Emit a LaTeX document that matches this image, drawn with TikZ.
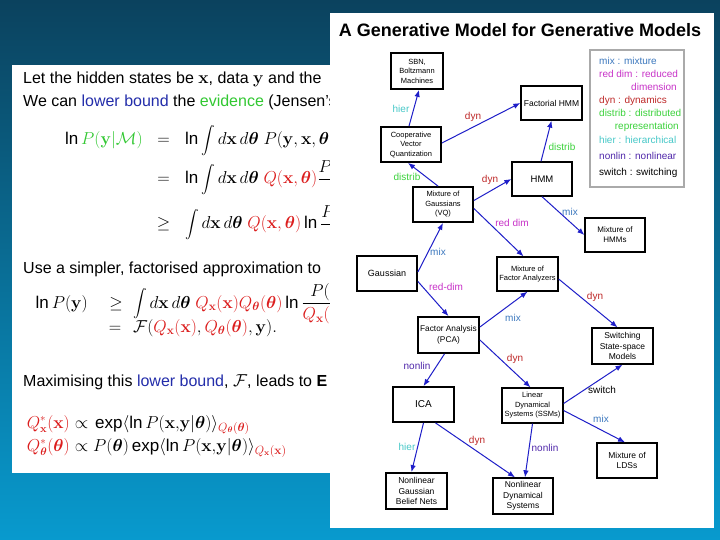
\documentclass[tikz,border=0pt]{standalone}
\usepackage{amsmath,amssymb}
\usepackage[no-math]{fontspec}
\setmainfont{Liberation Sans}
\usetikzlibrary{arrows.meta}
\definecolor{bgtop}{RGB}{11,66,94}
\definecolor{bgbot}{RGB}{8,154,206}
\definecolor{qred}{RGB}{220,30,30}
\definecolor{evgreen}{RGB}{50,200,50}
\definecolor{lbblue}{RGB}{35,45,170}
\definecolor{edgeblue}{RGB}{30,30,200}
\definecolor{cmix}{RGB}{60,120,190}
\definecolor{cred}{RGB}{200,50,200}
\definecolor{cdyn}{RGB}{190,40,40}
\definecolor{cdist}{RGB}{60,210,60}
\definecolor{chier}{RGB}{70,200,200}
\definecolor{cnon}{RGB}{80,40,170}
\definecolor{legbord}{RGB}{170,170,170}
\newcommand\Ln{\mathop{\text{ln}}\nolimits}
\newcommand\Ex{\mathop{\text{exp}}\nolimits}
\newcommand\Int{\mathop{\vcenter{\hbox{\scalebox{0.8}{$\displaystyle\int$}}}}\nolimits}
\newcommand\vx{\mathbf{x}}
\newcommand\vy{\mathbf{y}}
\newcommand\vth{\boldsymbol{\theta}}
\tikzset{
  slidetxt/.style={anchor=base west, inner sep=0pt, font=\fontsize{16}{19}\selectfont},
  eqn/.style={inner sep=0pt, font=\fontsize{17}{20}\selectfont},
  box/.style={draw=black, line width=1.8pt, fill=white, inner sep=1pt, align=center, font=\fontsize{8}{10}\selectfont},
  thinbox/.style={box, line width=1.3pt},
  edge/.style={draw=edgeblue, line width=1pt, -{Latex[length=7pt,width=5.5pt]}},
  lab/.style={font=\fontsize{10}{12}\selectfont, inner sep=0pt},
  leg/.style={font=\fontsize{10}{12}\selectfont, inner sep=0pt, anchor=base west},
}
\begin{document}
\begin{tikzpicture}[x=1pt, y={(0pt,-1pt)}]
\useasboundingbox (0,0) rectangle (720,540);
\shade[top color=bgtop, bottom color=bgbot] (0,0) rectangle (720,540);
% left slide
\fill[white] (12,65) rectangle (340,473);
\node[slidetxt] (l1) at (23,84) {Let the hidden states be $\vx$, data $\vy$ and the};
\node[slidetxt] (l2) at (23,107) {We can {\color{lbblue}lower bound} the {\color{evgreen}evidence} (Jensen's};
\node[eqn, anchor=base east] (e1l) at (143,145) {$\Ln {\color{evgreen}P(\vy|\mathcal{M})}$};
\node[eqn, anchor=base] (e1r) at (163.5,145) {$=$};
\node[eqn, anchor=base west] (e1x) at (185,145) {$\displaystyle\Ln\Int d\vx\,d\vth\;P(\vy,\vx,\vth|\mathcal{M})$};
\node[eqn, anchor=base] (e2r) at (163.5,184) {$=$};
\node[eqn, anchor=base west] (e2x) at (185,184) {$\displaystyle\Ln\Int d\vx\,d\vth\;{\color{qred}Q(\vx,\vth)}\frac{P(\vy,\vx,\vth|\mathcal{M})}{Q(\vx,\vth)}$};
\node[eqn, anchor=base] (e3r) at (163.5,229) {$\geq$};
\node[eqn, anchor=base west] (e3x) at (185,229) {$\displaystyle\Int d\vx\,d\vth\;{\color{qred}Q(\vx,\vth)}\Ln\frac{P(\vy,\vx,\vth|\mathcal{M})}{Q(\vx,\vth)}$};
\node[slidetxt] (l3) at (23,273) {Use a simpler, factorised approximation to};
\node[eqn, anchor=base east] (f1l) at (88,308) {$\Ln P(\vy)$};
\node[eqn, anchor=base] (f1r) at (116,308) {$\geq$};
\node[eqn, anchor=base west] (f1x) at (133,308) {$\displaystyle\Int d\vx\,d\vth\;{\color{qred}Q_{\vx}(\vx)Q_{\vth}(\vth)}\Ln\frac{P(\vy,\vx,\vth)}{{\color{qred}Q_{\vx}(\vx)Q_{\vth}(\vth)}}$};
\node[eqn, anchor=base] (f2r) at (115,332) {$=$};
\node[eqn, anchor=base west] (f2x) at (133,332) {$\mathcal{F}({\color{qred}Q_{\vx}(\vx)},{\color{qred}Q_{\vth}(\vth)},\vy).$};
\node[slidetxt] (l4) at (23,386) {Maximising this {\color{lbblue}lower bound}, $\mathcal{F}$, leads to \textbf{E}};
\node[eqn, anchor=base east, font=\fontsize{16}{19}\selectfont] (g1l) at (70,428) {${\color{qred}Q^{*}_{\vx}(\vx)}$};
\node[eqn, anchor=base] (g1r) at (81.5,428) {$\propto$};
\node[eqn, anchor=base west] (g1x) at (95,428) {$\Ex\langle\Ln P(\vx{,}\vy|\vth)\rangle_{\color{qred}Q_{\vth}(\vth)}$};
\node[eqn, anchor=base east, font=\fontsize{16}{19}\selectfont] (g2l) at (70,451) {${\color{qred}Q^{*}_{\vth}(\vth)}$};
\node[eqn, anchor=base] (g2r) at (81.5,451) {$\propto$};
\node[eqn, anchor=base west] (g2x) at (93,451) {$P(\vth)\Ex\langle\Ln P(\vx{,}\vy|\vth)\rangle_{\color{qred}Q_{\vx}(\vx)}$};
% right panel
\fill[white] (330,13) rectangle (714,528);
\node[anchor=base, inner sep=0pt, font=\bfseries\fontsize{18}{21}\selectfont] (title) at (520,37) {A Generative Model for Generative Models};
% legend
\draw[legbord, line width=1.5pt, fill=white] (590,50) rectangle (684,187);
\node[leg, text=cmix] (lg1) at (599,64.5) {mix : mixture};
\node[leg, text=cred] (lg2) at (599,78) {red dim : reduced};
\node[leg, text=cred, anchor=base east] (lg2b) at (677,91) {dimension};
\node[leg, text=cdyn] (lg3) at (599,104) {dyn : dynamics};
\node[leg, text=cdist] (lg4) at (599,117) {distrib : distributed};
\node[leg, text=cdist, anchor=base east] (lg4b) at (679,129.5) {representation};
\node[leg, text=chier] (lg5) at (599,144) {hier : hierarchical};
\node[leg, text=cnon] (lg6) at (599,160) {nonlin : nonlinear};
\node[leg, text=black] (lg7) at (599,176) {switch : switching};
% boxes
\node[box, minimum width=52pt, minimum height=36pt, font=\fontsize{7.5}{9.5}\selectfont] (sbn) at (417,71) {SBN,\\Boltzmann\\Machines};
\node[thinbox, minimum width=61pt, minimum height=34pt, font=\fontsize{8.5}{10}\selectfont] (fhmm) at (551.5,103) {Factorial HMM};
\node[box, minimum width=60pt, minimum height=35pt, font=\fontsize{7.5}{9.5}\selectfont] (cvq) at (411,144.5) {Cooperative\\Vector\\Quantization};
\node[thinbox, minimum width=60pt, minimum height=34pt, font=\fontsize{9.5}{11}\selectfont] (hmm) at (542,179) {HMM};
\node[box, minimum width=60pt, minimum height=35pt, font=\fontsize{7.5}{9.5}\selectfont] (mog) at (443,204.5) {Mixture of\\Gaussians\\(VQ)};
\node[thinbox, minimum width=60pt, minimum height=34pt, font=\fontsize{8}{10}\selectfont] (mhmm) at (615,235) {Mixture of\\HMMs};
\node[box, minimum width=60pt, minimum height=35pt, font=\fontsize{9}{11}\selectfont] (gauss) at (387,273.5) {Gaussian};
\node[thinbox, minimum width=61pt, minimum height=34pt, font=\fontsize{7.5}{9.5}\selectfont] (mfa) at (527.5,274) {Mixture of\\Factor Analyzers};
\node[box, minimum width=61pt, minimum height=36pt, font=\fontsize{8.3}{10.5}\selectfont] (fa) at (448.5,335) {Factor Analysis\\(PCA)};
\node[thinbox, minimum width=61pt, minimum height=36pt, font=\fontsize{8.5}{10.5}\selectfont] (sssm) at (622.5,346) {Switching\\State-space\\Models};
\node[box, minimum width=61pt, minimum height=35pt, font=\fontsize{10}{12}\selectfont] (ica) at (423.5,404.5) {ICA};
\node[thinbox, minimum width=61pt, minimum height=35pt, font=\fontsize{7.5}{9.5}\selectfont] (lds) at (532.5,405.5) {Linear\\Dynamical\\Systems (SSMs)};
\node[thinbox, minimum width=60pt, minimum height=35pt, font=\fontsize{8.5}{10.5}\selectfont] (mlds) at (627,460.5) {Mixture of\\LDSs};
\node[box, minimum width=61pt, minimum height=36pt, font=\fontsize{8.5}{10.5}\selectfont] (ngbn) at (416.5,491) {Nonlinear\\Gaussian\\Belief Nets};
\node[thinbox, minimum width=60pt, minimum height=36pt, font=\fontsize{8.5}{10.5}\selectfont] (nds) at (523,496) {Nonlinear\\Dynamical\\Systems};
% edges
\draw[edge] ([xshift=-2pt]cvq.north) -- ([xshift=2pt]sbn.south);
\draw[edge] ([yshift=1.5pt]cvq.east) -- (fhmm.west);
\draw[edge] ([xshift=-1pt]hmm.north) -- (fhmm.south);
\draw[edge] ([xshift=-5pt]mog.north) -- ([xshift=-3pt]cvq.south);
\draw[edge] ([yshift=4pt]mog.east) -- (hmm.west);
\draw[edge] ([yshift=-4pt]mog.east) -- ([xshift=-4pt]mfa.north);
\draw[edge] (hmm.south) -- (mhmm.west);
\draw[edge] ([yshift=1.5pt]gauss.east) -- (mog.south);
\draw[edge] ([yshift=-8pt]gauss.east) -- (fa.north);
\draw[edge] ([yshift=8pt]fa.east) -- (mfa.south);
\draw[edge] ([yshift=-5pt]mfa.east) -- ([xshift=-5pt]sssm.north);
\draw[edge] ([xshift=-4pt]fa.south) -- (ica.north);
\draw[edge] ([yshift=-5pt]fa.east) -- ([xshift=-2pt]lds.north);
\draw[edge] ([yshift=2pt]lds.east) -- (sssm.south);
\draw[edge] ([yshift=-5pt]lds.east) -- ([xshift=-2pt]mlds.north);
\draw[edge] (ica.south) -- ([xshift=-5pt]ngbn.north);
\draw[edge] ([xshift=12pt]ica.south) -- ([xshift=-8pt]nds.north);
\draw[edge] (lds.south) -- ([xshift=2pt]nds.north);
% edge labels
\node[lab, text=chier] (t1) at (401,109) {hier};
\node[lab, text=cdyn] (t2) at (473,117) {dyn};
\node[lab, text=cdist] (t3) at (562,147) {distrib};
\node[lab, text=cdist] (t4) at (407,177) {distrib};
\node[lab, text=cdyn] (t5) at (490,180) {dyn};
\node[lab, text=cred] (t6) at (512,223) {red dim};
\node[lab, text=cmix] (t7) at (570,212) {mix};
\node[lab, text=cmix] (t8) at (438,252) {mix};
\node[lab, text=cred] (t9) at (446,287) {red-dim};
\node[lab, text=cmix] (t10) at (513,318) {mix};
\node[lab, text=cdyn] (t11) at (595,297) {dyn};
\node[lab, text=cnon] (t12) at (417,366) {nonlin};
\node[lab, text=cdyn] (t13) at (515,359) {dyn};
\node[lab, text=black] (t14) at (602,390) {switch};
\node[lab, text=cmix] (t15) at (601,419) {mix};
\node[lab, text=chier] (t16) at (407,447) {hier};
\node[lab, text=cdyn] (t17) at (477,441) {dyn};
\node[lab, text=cnon] (t18) at (545,448) {nonlin};
\end{tikzpicture}
\end{document}
